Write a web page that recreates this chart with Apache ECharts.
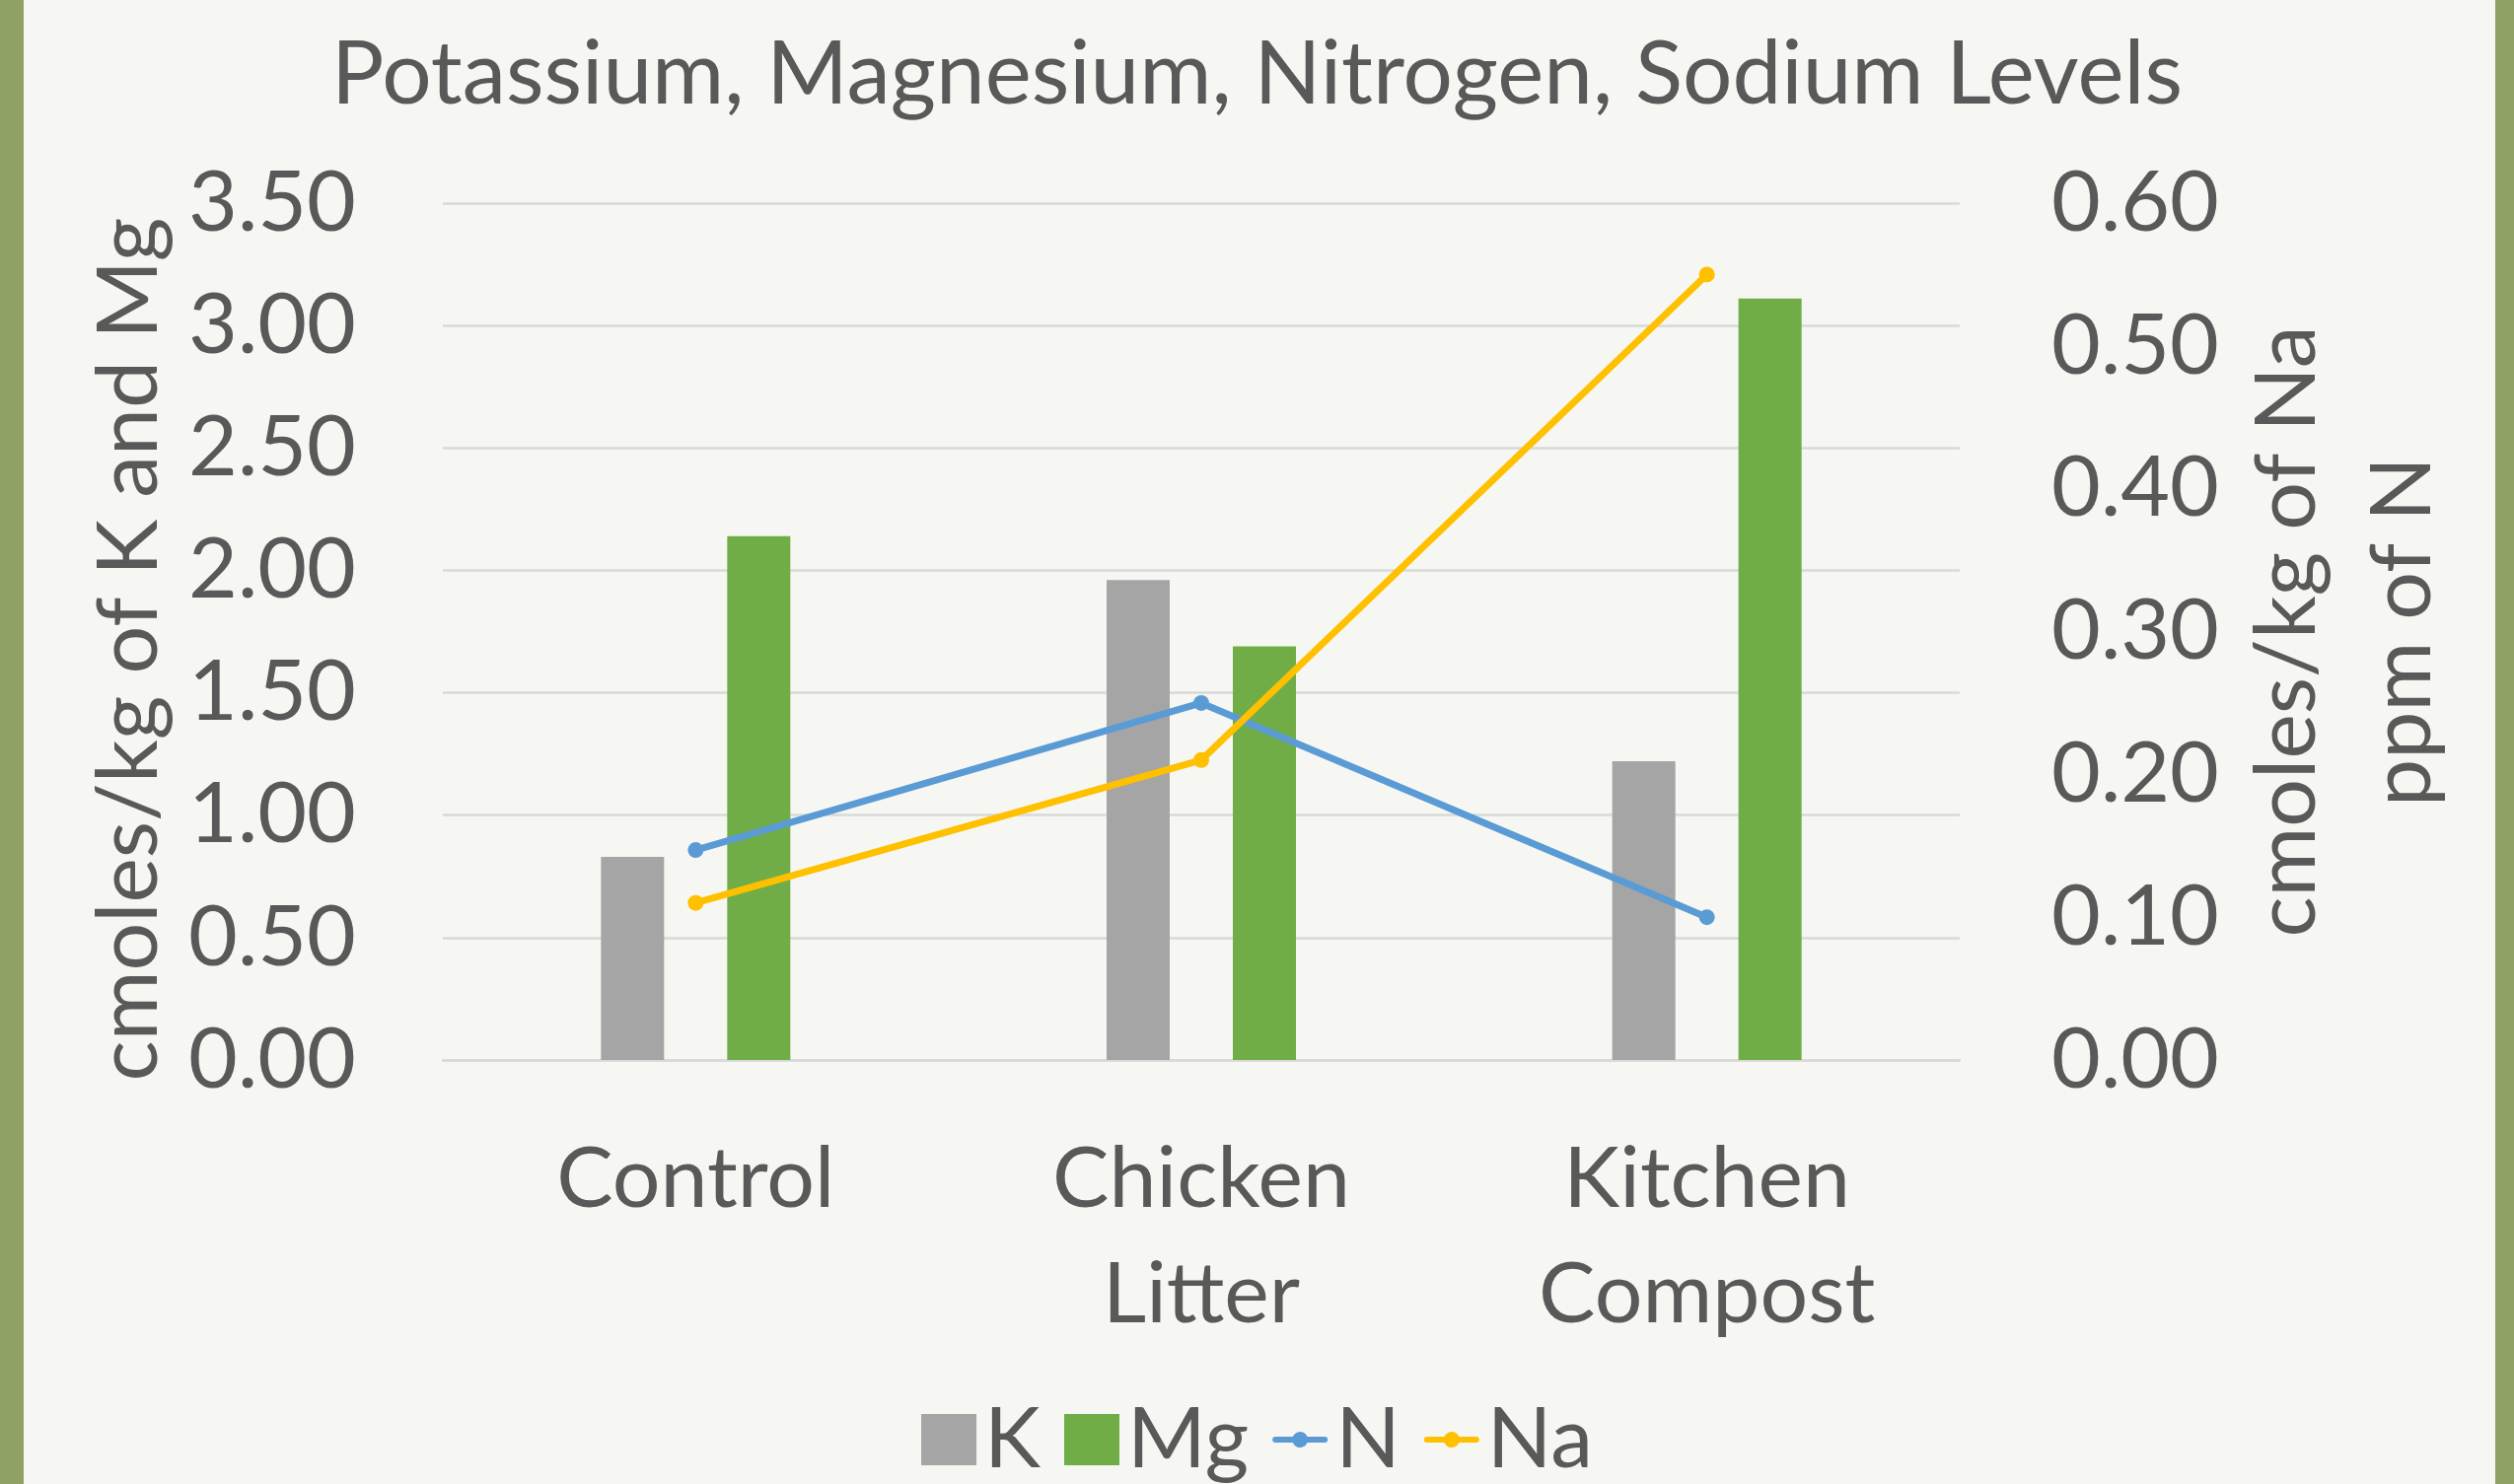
<!DOCTYPE html>
<html><head><meta charset="utf-8">
<script src="https://cdn.jsdelivr.net/npm/echarts@6/dist/echarts.min.js"></script>
<style>html,body{margin:0;padding:0;background:#F6F7F2;} #c{width:2549px;height:1505px;}</style>
</head><body><div id="c"></div>
<script>
// ---- data ----
const titleText = 'Potassium, Magnesium, Nitrogen, Sodium Levels';
const categories = ['Control', 'Chicken\nLitter', 'Kitchen\nCompost'];
const seriesNames = ['K', 'Mg', 'N', 'Na'];
const kValues = [0.83, 1.96, 1.22];
const mgValues = [2.14, 1.69, 3.11];
const nValues = [0.147, 0.25, 0.10];
const naValues = [0.11, 0.21, 0.55];
const leftAxisName = 'cmoles/kg of K and Mg';
const rightAxisName = 'cmoles/kg of Na\nppm of N';
const leftAxisRange = { min: 0, max: 3.5, interval: 0.5 };
const rightAxisRange = { min: 0, max: 0.6, interval: 0.1 };

// ---- style ----
const FONT = 'Lato';
const FS = 86;
const TXT = '#595959';
const colors = { K: '#A5A5A5', Mg: '#70AD47', N: '#5B9BD5', Na: '#FFC000' };
const lineIcon = 'path://M3,5 L20.58,5 A8,8 0 0 1 35.42,5 L53,5 A3,3 0 0 1 53,11 L35.42,11 A8,8 0 0 1 20.58,11 L3,11 A3,3 0 0 1 3,5 Z';

const chart = echarts.init(document.getElementById('c'), null, { renderer: 'canvas' });
chart.setOption({
  backgroundColor: '#F6F7F2',
  animation: false,
  textStyle: { fontFamily: FONT, color: TXT },
  title: {
    text: titleText, left: 'center', top: 27,
    textStyle: { fontFamily: FONT, fontSize: 89, fontWeight: 'normal', color: TXT }
  },
  grid: { left: 449, right: 562, top: 206, bottom: 430, containLabel: false },
  legend: {
    top: 1417, left: 'center', padding: 0, itemWidth: 56, itemHeight: 52, itemGap: 24,
    textStyle: { fontFamily: FONT, fontSize: FS, color: TXT, padding: [0, 0, 0, 3] },
    data: [
      { name: 'K', icon: 'rect', itemStyle: { color: colors.K } },
      { name: 'Mg', icon: 'rect', itemStyle: { color: colors.Mg } },
      { name: 'N', icon: lineIcon, itemStyle: { color: colors.N, borderWidth: 0 } },
      { name: 'Na', icon: lineIcon, itemStyle: { color: colors.Na, borderWidth: 0 } }
    ]
  },
  xAxis: {
    type: 'category', data: categories,
    axisLine: { show: true, lineStyle: { color: '#D9D9D9', width: 2.5 } },
    axisTick: { show: false },
    axisLabel: { fontFamily: FONT, fontSize: FS, color: TXT, lineHeight: 117, margin: 63, interval: 0 }
  },
  yAxis: [
    {
      type: 'value', min: leftAxisRange.min, max: leftAxisRange.max, interval: leftAxisRange.interval,
      name: leftAxisName, nameLocation: 'middle', nameRotate: 90, nameGap: 275,
      nameTextStyle: { fontFamily: FONT, fontSize: FS, color: TXT, padding: [0, 36, 0, 0] },
      axisLine: { show: false }, axisTick: { show: false },
      splitLine: { lineStyle: { color: '#D9D9D9', width: 2.5 } },
      axisLabel: { fontFamily: FONT, fontSize: FS, color: TXT, margin: 88, formatter: v => v.toFixed(2) }
    },
    {
      type: 'value', min: rightAxisRange.min, max: rightAxisRange.max, interval: rightAxisRange.interval,
      name: rightAxisName, nameLocation: 'middle', nameRotate: 90, nameGap: 273,
      nameTextStyle: { fontFamily: FONT, fontSize: FS, color: TXT, lineHeight: 117 },
      axisLine: { show: false }, axisTick: { show: false },
      splitLine: { show: false },
      axisLabel: { fontFamily: FONT, fontSize: FS, color: TXT, margin: 93, formatter: v => v.toFixed(2) }
    }
  ],
  series: [
    { name: 'K', type: 'bar', data: kValues, barWidth: 64, barGap: '100%', itemStyle: { color: colors.K } },
    { name: 'Mg', type: 'bar', data: mgValues, barWidth: 64, barGap: '100%', itemStyle: { color: colors.Mg } },
    { name: 'N', type: 'line', yAxisIndex: 1, data: nValues, symbol: 'circle', symbolSize: 16,
      lineStyle: { color: colors.N, width: 7 }, itemStyle: { color: colors.N } },
    { name: 'Na', type: 'line', yAxisIndex: 1, data: naValues, symbol: 'circle', symbolSize: 16,
      lineStyle: { color: colors.Na, width: 7 }, itemStyle: { color: colors.Na } }
  ],
  graphic: [
    { type: 'rect', left: 0, top: 0, shape: { width: 24, height: 1505 }, style: { fill: '#8FA163' }, silent: true },
    { type: 'rect', right: 0, top: 0, shape: { width: 19, height: 1505 }, style: { fill: '#8FA163' }, silent: true }
  ]
});
</script></body></html>
